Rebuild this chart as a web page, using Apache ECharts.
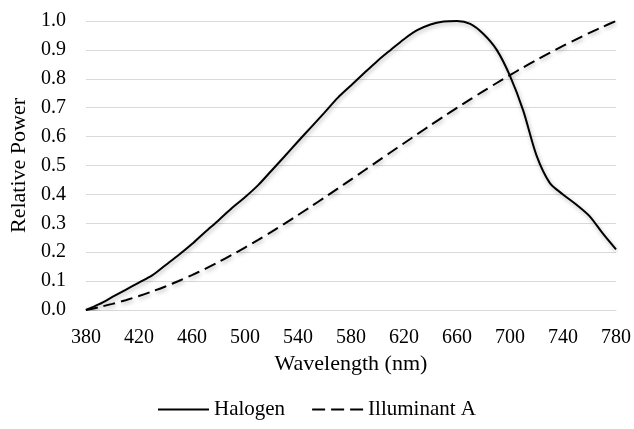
<!DOCTYPE html>
<html>
<head>
<meta charset="utf-8">
<script src="https://cdn.jsdelivr.net/npm/echarts@6/dist/echarts.min.js"></script>
<style>html,body{margin:0;padding:0;background:#fff}#c{width:634px;height:429px}</style>
</head>
<body>
<div id="c"></div>
<script>
var wavelengths = [380,390,400,410,420,430,440,450,460,470,480,490,500,510,520,530,540,550,560,570,580,590,600,610,620,630,640,650,660,670,680,690,700,710,720,730,740,750,760,770,780];
var halogen = [0,0.02,0.045,0.07,0.095,0.12,0.155,0.19,0.228,0.27,0.31,0.352,0.39,0.432,0.482,0.532,0.583,0.633,0.683,0.734,0.777,0.82,0.862,0.9,0.937,0.968,0.988,0.998,1.0,0.99,0.955,0.9,0.81,0.69,0.535,0.44,0.4,0.365,0.325,0.265,0.21];
var illuminantA = [0,0.0099,0.0212,0.034,0.0483,0.0642,0.0815,0.1004,0.1208,0.1426,0.1658,0.1903,0.2159,0.2427,0.2704,0.299,0.3284,0.3585,0.389,0.42,0.4513,0.4827,0.5143,0.5458,0.5771,0.6082,0.6391,0.6695,0.6994,0.7287,0.7574,0.7855,0.8128,0.8393,0.865,0.8898,0.9137,0.9367,0.9588,0.9799,1.0];
var seriesNames = ['Halogen','Illuminant A'];

function pairs(xs, ys){ return xs.map(function(x,i){return [x, ys[i]];}); }

var font = 'Liberation Serif';
var chart = echarts.init(document.getElementById('c'), null, {renderer:'canvas'});
var shadow = {shadowColor:'rgba(0,0,0,0.3)', shadowBlur:4, shadowOffsetX:1, shadowOffsetY:2};
chart.setOption({
  animation:false,
  textStyle:{fontFamily:font, color:'#000'},
  grid:{left:83, right:16, top:21, bottom:119, containLabel:false},
  legend:{
    bottom:4, left:'center',
    itemWidth:51, itemHeight:2, itemGap:27,
    itemStyle:{color:'#000', borderWidth:0, shadowBlur:0},
    textStyle:{fontFamily:font, fontSize:21, color:'#000'},
    data:[
      {name:seriesNames[0], icon:'rect'},
      {name:seriesNames[1], icon:'path://M0,0h13v2h-13z M19,0h13v2h-13z M38,0h13v2h-13z'}
    ]
  },
  xAxis:{
    type:'value', min:380, max:780, interval:40,
    name:'Wavelength (nm)', nameLocation:'middle', nameGap:43,
    nameTextStyle:{fontFamily:font, fontSize:22, color:'#000'},
    axisLine:{show:true, lineStyle:{color:'#d9d9d9', width:1}},
    axisTick:{show:false},
    axisLabel:{fontFamily:font, fontSize:20, color:'#000', margin:18},
    splitLine:{show:false}
  },
  yAxis:{
    type:'value', min:0, max:1, interval:0.1,
    name:'Relative Power', nameLocation:'middle', nameGap:50,
    nameTextStyle:{fontFamily:font, fontSize:22, color:'#000'},
    axisLine:{show:false}, axisTick:{show:false},
    axisLabel:{fontFamily:font, fontSize:20, color:'#000', margin:20, formatter:function(v){return v.toFixed(1);}},
    splitLine:{show:true, lineStyle:{color:'#d9d9d9', width:1}}
  },
  series:[
    {name:seriesNames[0], type:'line', data:pairs(wavelengths, halogen), symbol:'none', smooth:0.3,
     lineStyle:Object.assign({color:'#000', width:2, type:'solid'}, shadow), itemStyle:{color:'#000'}},
    {name:seriesNames[1], type:'line', data:pairs(wavelengths, illuminantA), symbol:'none', smooth:0.3,
     lineStyle:Object.assign({color:'#000', width:2, type:[12,6]}, shadow), itemStyle:{color:'#000'}}
  ]
});
</script>
</body>
</html>
